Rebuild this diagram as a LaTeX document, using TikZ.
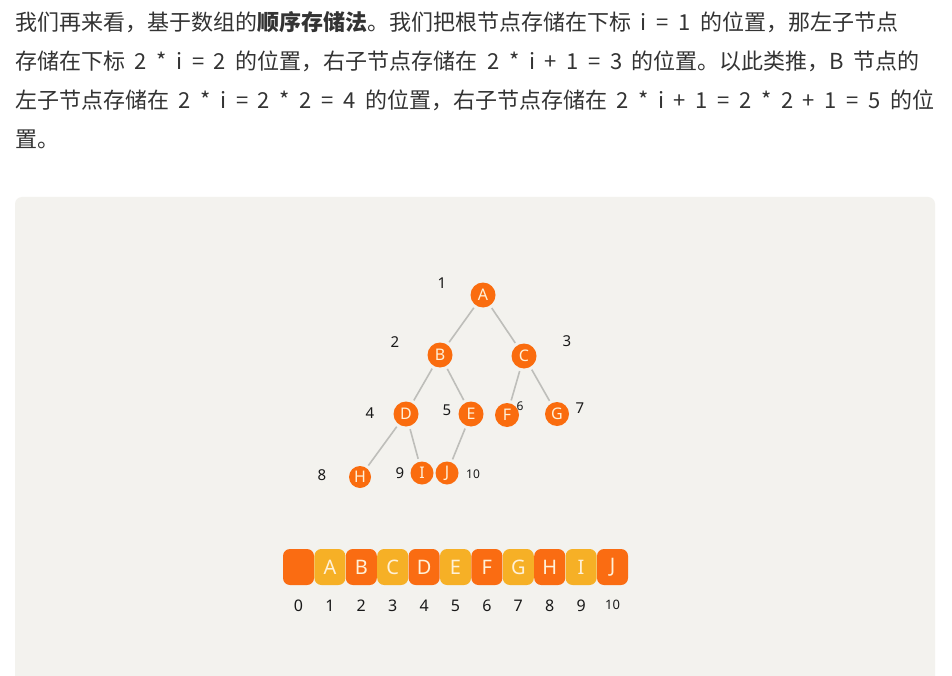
\documentclass[tikz,border=0pt]{standalone}
\usepackage{fontspec}
\usetikzlibrary{positioning}
\newfontfamily\cjkfont{Noto Sans CJK SC}
\newfontfamily\handfont{Noto Sans}
\newcommand{\widespaces}{\spaceskip=9.6pt\relax}
\definecolor{panelbg}{RGB}{243,242,238}
\definecolor{bodygray}{RGB}{51,51,51}
\definecolor{treeorange}{RGB}{250,108,14}
\definecolor{cellorange}{RGB}{250,108,18}
\definecolor{cellyellow}{RGB}{246,176,38}
\definecolor{edgegray}{RGB}{190,190,186}
\definecolor{creamwhite}{RGB}{255,241,216}
\definecolor{indexblack}{RGB}{25,25,25}
\tikzset{
  bodytext/.style={
    anchor=west, inner sep=0pt,
    font=\cjkfont\fontsize{22}{26}\selectfont, text=bodygray
  },
  treenode/.style={
    circle, fill=treeorange, minimum size=25pt, inner sep=0pt,
    font=\handfont\fontsize{16}{16}\selectfont, text=creamwhite
  },
  treeedge/.style={
    draw=edgegray, line width=1.6pt, shorten <=3pt, shorten >=3pt
  },
  poslabel/.style={
    font=\handfont\fontsize{15}{15}\selectfont, text=indexblack
  },
  evencell/.style={
    fill=cellorange, rounded corners=7pt, minimum width=31pt,
    minimum height=36pt, inner sep=0pt,
    font=\handfont\fontsize{20}{20}\selectfont, text=creamwhite
  },
  oddcell/.style={
    evencell, fill=cellyellow
  },
  cellindex/.style={
    poslabel, font=\handfont\fontsize{16}{16}\selectfont
  },
}
\begin{document}
\begin{tikzpicture}[x=1pt, y=-1pt, node distance=0pt]

  \useasboundingbox (0,0) rectangle (952,676);
  \clip (0,0) rectangle (952,676);
  \fill[white] (0,0) rectangle (952,676);

  %% Paragraph
  \node[bodytext] (line1) at (15,22)
    {\widespaces 我们再来看，基于数组的{\bfseries 顺序存储法}。我们把根节点存储在下标 i = 1 的位置，那左子节点};
  \node[bodytext] (line2) at (15,61)
    {\widespaces 存储在下标 2 * i = 2 的位置，右子节点存储在 2 * i + 1 = 3 的位置。以此类推，B 节点的};
  \node[bodytext] (line3) at (15,100)
    {\widespaces 左子节点存储在 2 * i = 2 * 2 = 4 的位置，右子节点存储在 2 * i + 1 = 2 * 2 + 1 = 5 的位};
  \node[bodytext] (line4) at (15,139) {置。};

  %% Panel
  \fill[panelbg, rounded corners=7pt] (15,197) rectangle (935,700);

  %% Tree nodes
  \node[treenode] (A) at (483,295) {A};
  \node[treenode] (B) at (440,355) {B};
  \node[treenode] (C) at (524,356) {C};
  \node[treenode] (D) at (406,414) {D};
  \node[treenode] (E) at (471,414) {E};
  \node[treenode, minimum size=24pt] (F) at (507,415) {F};
  \node[treenode, minimum size=24pt] (G) at (557,414) {G};
  \node[treenode, minimum size=22pt] (H) at (360,477) {H};
  \node[treenode, minimum size=23pt] (I) at (422,473) {I};
  \node[treenode, minimum size=23pt] (J) at (447,473) {J};

  %% Tree edges
  \draw[treeedge] (A) -- (B);
  \draw[treeedge] (A) -- (C);
  \draw[treeedge] (B) -- (D);
  \draw[treeedge] (B) -- (E);
  \draw[treeedge] (C) -- (F);
  \draw[treeedge] (C) -- (G);
  \draw[treeedge] (D) -- (H);
  \draw[treeedge] (D) -- (I);
  \draw[treeedge] (E) -- (J);

  %% Position labels
  \node[poslabel] (p1) at (442,283) {1};
  \node[poslabel] (p2) at (395,342) {2};
  \node[poslabel] (p3) at (567,341) {3};
  \node[poslabel] (p4) at (370,413) {4};
  \node[poslabel] (p5) at (447,410) {5};
  \node[poslabel, font=\handfont\fontsize{12}{12}\selectfont] (p6) at (520,406) {6};
  \node[poslabel] (p7) at (580,408) {7};
  \node[poslabel] (p8) at (322,475) {8};
  \node[poslabel] (p9) at (400,473) {9};
  \node[poslabel, font=\handfont\fontsize{12}{12}\selectfont] (p10) at (473,474) {10};

  %% Array cells
  \node[evencell] (c0) at (298.5,567) {};
  \node[oddcell, right=of c0] (c1) {A};
  \node[evencell, right=of c1] (c2) {B};
  \node[oddcell, right=of c2] (c3) {C};
  \node[evencell, right=of c3] (c4) {D};
  \node[oddcell, right=of c4] (c5) {E};
  \node[evencell, right=of c5] (c6) {F};
  \node[oddcell, right=of c6] (c7) {G};
  \node[evencell, right=of c7] (c8) {H};
  \node[oddcell, right=of c8] (c9) {I};
  \node[evencell, right=of c9] (c10) {J};

  %% Array indices
  \node[cellindex, below=11pt of c0] (i0) {0};
  \node[cellindex, below=11pt of c1] (i1) {1};
  \node[cellindex, below=11pt of c2] (i2) {2};
  \node[cellindex, below=11pt of c3] (i3) {3};
  \node[cellindex, below=11pt of c4] (i4) {4};
  \node[cellindex, below=11pt of c5] (i5) {5};
  \node[cellindex, below=11pt of c6] (i6) {6};
  \node[cellindex, below=11pt of c7] (i7) {7};
  \node[cellindex, below=11pt of c8] (i8) {8};
  \node[cellindex, below=11pt of c9] (i9) {9};
  \node[cellindex, below=11pt of c10, font=\handfont\fontsize{13}{13}\selectfont] (i10) {10};

\end{tikzpicture}
\end{document}
